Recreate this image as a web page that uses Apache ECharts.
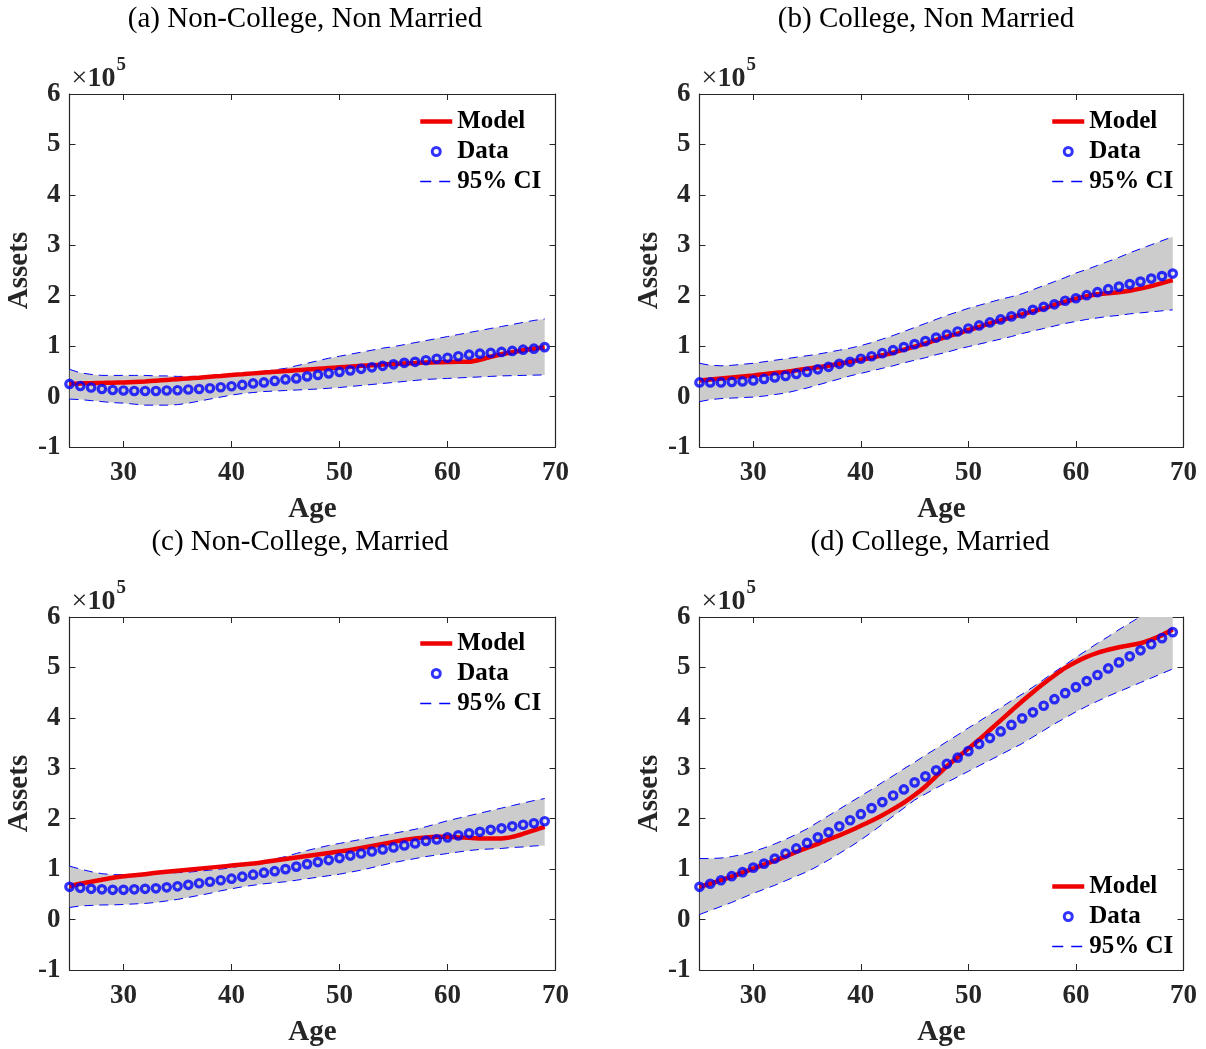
<!DOCTYPE html>
<html>
<head>
<meta charset="utf-8">
<script src="https://cdn.jsdelivr.net/npm/echarts@6/dist/echarts.min.js"></script>
<style>
html,body{margin:0;padding:0;background:#fff;}
#chart{width:1206px;height:1049px;}
</style>
</head>
<body>
<div id="chart"></div>
<script>
// Ages (x values)
const ages = [25,26,27,28,29,30,31,32,33,34,35,36,37,38,39,40,41,42,43,44,45,46,47,48,49,50,51,52,53,54,55,56,57,58,59,60,61,62,63,64,65,66,67,68,69];

// Panel titles
const panelTitles = ['(a) Non-College, Non Married','(b) College, Non Married','(c) Non-College, Married','(d) College, Married'];
const legendNames = ['Model','Data','95% CI'];
const yTickLabels = ['-1','0','1','2','3','4','5','6'];

// Values in units of 1e5
// (a) Non-College, Non Married
const modelA = [0.25,0.26,0.265,0.27,0.275,0.28,0.29,0.30,0.315,0.33,0.345,0.36,0.375,0.395,0.41,0.43,0.445,0.46,0.475,0.49,0.505,0.52,0.535,0.55,0.565,0.58,0.595,0.61,0.62,0.635,0.645,0.655,0.665,0.675,0.68,0.685,0.69,0.69,0.73,0.79,0.84,0.88,0.92,0.95,0.98];
const dataA  = [0.25,0.21,0.18,0.15,0.13,0.12,0.11,0.11,0.11,0.12,0.125,0.14,0.15,0.165,0.185,0.205,0.23,0.26,0.28,0.31,0.34,0.36,0.40,0.43,0.46,0.49,0.52,0.55,0.58,0.61,0.64,0.67,0.69,0.72,0.75,0.77,0.80,0.83,0.85,0.865,0.885,0.905,0.93,0.95,0.98];
const upperA = [0.54,0.47,0.44,0.42,0.42,0.42,0.42,0.42,0.41,0.41,0.40,0.40,0.40,0.41,0.42,0.43,0.45,0.47,0.50,0.53,0.56,0.61,0.66,0.71,0.76,0.80,0.84,0.88,0.92,0.96,0.99,1.03,1.07,1.11,1.15,1.19,1.23,1.27,1.31,1.35,1.39,1.43,1.47,1.51,1.54];
const lowerA = [-0.05,-0.06,-0.08,-0.10,-0.12,-0.13,-0.15,-0.17,-0.17,-0.17,-0.16,-0.13,-0.09,-0.05,-0.01,0.03,0.06,0.08,0.10,0.11,0.12,0.13,0.14,0.15,0.165,0.18,0.20,0.22,0.24,0.26,0.28,0.30,0.32,0.34,0.35,0.36,0.37,0.38,0.39,0.40,0.41,0.415,0.42,0.425,0.43];

// (b) College, Non Married
const modelB = [0.32,0.34,0.36,0.38,0.40,0.42,0.445,0.47,0.49,0.52,0.55,0.58,0.61,0.65,0.69,0.73,0.77,0.82,0.87,0.93,0.99,1.05,1.12,1.19,1.25,1.32,1.38,1.45,1.51,1.57,1.63,1.69,1.75,1.82,1.88,1.94,1.99,2.03,2.05,2.07,2.10,2.14,2.19,2.25,2.31];
const dataB  = [0.28,0.28,0.28,0.29,0.30,0.32,0.35,0.38,0.41,0.45,0.49,0.54,0.59,0.65,0.69,0.75,0.80,0.86,0.92,0.98,1.04,1.10,1.17,1.23,1.29,1.35,1.41,1.47,1.53,1.59,1.65,1.72,1.78,1.83,1.90,1.95,2.01,2.07,2.13,2.18,2.23,2.28,2.34,2.39,2.44];
const upperB = [0.66,0.62,0.61,0.62,0.64,0.66,0.69,0.72,0.75,0.78,0.81,0.84,0.88,0.92,0.96,1.01,1.07,1.14,1.21,1.29,1.37,1.45,1.53,1.61,1.68,1.75,1.81,1.87,1.93,1.98,2.04,2.12,2.20,2.28,2.36,2.45,2.52,2.60,2.68,2.76,2.85,2.93,3.01,3.09,3.17];
const lowerB = [-0.10,-0.06,-0.04,-0.03,-0.02,-0.01,0.01,0.04,0.07,0.12,0.17,0.23,0.29,0.35,0.41,0.46,0.51,0.56,0.61,0.67,0.72,0.77,0.83,0.88,0.94,0.99,1.04,1.09,1.14,1.19,1.25,1.30,1.35,1.40,1.45,1.49,1.53,1.56,1.59,1.61,1.64,1.66,1.68,1.70,1.72];

// (c) Non-College, Married
const modelC = [0.66,0.71,0.75,0.79,0.83,0.86,0.88,0.90,0.93,0.95,0.97,0.99,1.01,1.03,1.05,1.07,1.09,1.11,1.14,1.17,1.20,1.23,1.26,1.29,1.32,1.35,1.38,1.42,1.46,1.50,1.54,1.58,1.61,1.63,1.64,1.64,1.63,1.62,1.61,1.61,1.61,1.64,1.70,1.77,1.84];
const dataC  = [0.65,0.63,0.61,0.60,0.59,0.59,0.60,0.61,0.62,0.64,0.66,0.69,0.72,0.75,0.78,0.81,0.85,0.89,0.93,0.96,1.00,1.05,1.10,1.14,1.18,1.22,1.27,1.31,1.35,1.39,1.43,1.47,1.51,1.56,1.59,1.63,1.67,1.71,1.74,1.78,1.81,1.85,1.88,1.91,1.95];
const upperC = [1.06,1.00,0.95,0.91,0.89,0.89,0.89,0.90,0.91,0.92,0.93,0.94,0.96,0.98,1.00,1.03,1.07,1.11,1.15,1.20,1.25,1.31,1.37,1.42,1.47,1.51,1.55,1.59,1.63,1.67,1.71,1.75,1.79,1.84,1.90,1.96,2.01,2.06,2.11,2.16,2.21,2.26,2.31,2.36,2.40];
const lowerC = [0.24,0.27,0.28,0.29,0.29,0.30,0.31,0.32,0.34,0.37,0.40,0.44,0.48,0.52,0.57,0.61,0.65,0.68,0.71,0.73,0.75,0.78,0.81,0.84,0.87,0.90,0.94,0.98,1.03,1.08,1.13,1.17,1.21,1.25,1.28,1.31,1.34,1.37,1.39,1.40,1.41,1.43,1.44,1.46,1.47];

// (d) College, Married
const modelD = [0.65,0.71,0.78,0.85,0.93,1.01,1.09,1.17,1.25,1.34,1.42,1.50,1.59,1.67,1.76,1.86,1.96,2.07,2.19,2.32,2.47,2.64,2.84,3.04,3.22,3.39,3.57,3.76,3.95,4.14,4.33,4.51,4.68,4.84,4.99,5.11,5.21,5.29,5.35,5.40,5.44,5.48,5.55,5.64,5.75];
const dataD  = [0.65,0.71,0.78,0.86,0.94,1.03,1.11,1.21,1.31,1.41,1.52,1.63,1.73,1.85,1.97,2.09,2.21,2.33,2.46,2.58,2.72,2.84,2.96,3.09,3.21,3.34,3.48,3.60,3.73,3.86,3.99,4.11,4.24,4.37,4.49,4.61,4.73,4.85,4.98,5.10,5.22,5.34,5.46,5.58,5.70];
const upperD = [1.21,1.21,1.22,1.25,1.29,1.35,1.42,1.50,1.59,1.69,1.80,1.93,2.06,2.19,2.32,2.45,2.58,2.72,2.85,2.99,3.12,3.26,3.39,3.53,3.66,3.80,3.93,4.07,4.20,4.34,4.47,4.61,4.76,4.91,5.05,5.20,5.34,5.48,5.61,5.75,5.88,6.01,6.14,6.27,6.40];
const lowerD = [0.10,0.18,0.26,0.34,0.43,0.52,0.60,0.68,0.77,0.86,0.95,1.06,1.18,1.31,1.44,1.58,1.73,1.89,2.05,2.21,2.37,2.49,2.61,2.72,2.83,2.94,3.05,3.16,3.27,3.38,3.49,3.62,3.75,3.88,4.00,4.12,4.23,4.33,4.43,4.52,4.61,4.70,4.79,4.88,4.97];

const panels = [
  {model: modelA, data: dataA, upper: upperA, lower: lowerA},
  {model: modelB, data: dataB, upper: upperB, lower: lowerB},
  {model: modelC, data: dataC, upper: upperC, lower: lowerC},
  {model: modelD, data: dataD, upper: upperD, lower: lowerD}
];

// Layout (pixels)
const grids = [
  {left: 69.5, top: 94, width: 486, height: 353},
  {left: 699.5, top: 94, width: 484, height: 353},
  {left: 69.5, top: 617, width: 486, height: 353},
  {left: 699.5, top: 617, width: 484, height: 353}
];
const titlePos = [[305, 19], [926, 19], [300, 542], [930, 542]];
const legendPos = [[418, 109], [1050, 109], [418, 631], [1050, 874]];

const SERIF = '"Liberation Serif","Times New Roman",serif';
const AX = '#262626';
const RED = '#ee0000';
const BLUE = '#0000ff';

const pairs = arr => arr.map((v, i) => [ages[i], v]);

const xAxes = [], yAxes = [], series = [], legends = [], graphics = [];

panels.forEach((p, i) => {
  const g = grids[i];
  const common = {
    gridIndex: i,
    axisLine: {show: true, onZero: false, lineStyle: {color: AX, width: 1.2}},
    axisTick: {show: true, inside: true, length: 6, lineStyle: {color: AX, width: 1}},
    splitLine: {show: false}
  };
  xAxes.push(Object.assign({}, common, {
    type: 'value', position: 'bottom', min: 25, max: 70, splitNumber: 5,
    axisLabel: {
      show: true, margin: 13, fontFamily: SERIF, fontWeight: 'bold', fontSize: 27, color: AX,
      formatter: v => (v % 10 === 0 ? String(v) : '')
    },
    name: 'Age', nameLocation: 'middle', nameGap: 48,
    nameTextStyle: {fontFamily: SERIF, fontWeight: 'bold', fontSize: 29, color: AX}
  }));
  xAxes.push(Object.assign({}, common, {
    type: 'value', position: 'top', min: 25, max: 70, splitNumber: 5,
    axisLabel: {show: false}
  }));
  yAxes.push(Object.assign({}, common, {
    type: 'value', position: 'left', min: -1, max: 6, interval: 1,
    axisLabel: {
      show: true, margin: 9, fontFamily: SERIF, fontWeight: 'bold', fontSize: 27, color: AX,
      formatter: v => yTickLabels[Math.round(v) + 1]
    },
    name: 'Assets', nameLocation: 'middle', nameGap: 34,
    nameTextStyle: {fontFamily: SERIF, fontWeight: 'bold', fontSize: 29, color: AX}
  }));
  yAxes.push(Object.assign({}, common, {
    type: 'value', position: 'right', min: -1, max: 6, interval: 1,
    axisLabel: {show: false}
  }));

  const xi = 2 * i, yi = 2 * i;

  // grey confidence band drawn as one polygon through the axis scales
  series.push({
    name: 'band' + i, type: 'custom', xAxisIndex: xi, yAxisIndex: yi, silent: true, z: 1,
    data: ages.map((a, k) => [a, p.lower[k], p.upper[k]]),
    renderItem: (params, api) => {
      if (params.dataIndex !== 0) return null;
      const pts = [];
      for (let k = 0; k < ages.length; k++) pts.push(api.coord([ages[k], p.upper[k]]));
      for (let k = ages.length - 1; k >= 0; k--) pts.push(api.coord([ages[k], p.lower[k]]));
      const cs = params.coordSys;
      return {
        type: 'polygon', shape: {points: pts},
        style: {fill: '#cccccc', stroke: null},
        clipPath: {type: 'rect', shape: {x: cs.x, y: cs.y, width: cs.width, height: cs.height}}
      };
    }
  });
  series.push({
    name: '95% CI', type: 'line', xAxisIndex: xi, yAxisIndex: yi,
    data: pairs(p.lower), symbol: 'none', silent: true,
    lineStyle: {color: BLUE, width: 1, type: [9, 6]},
    itemStyle: {color: BLUE}, z: 3
  });
  series.push({
    name: '95% CI', type: 'line', xAxisIndex: xi, yAxisIndex: yi,
    data: pairs(p.upper), symbol: 'none', silent: true,
    lineStyle: {color: BLUE, width: 1, type: [9, 6]},
    itemStyle: {color: BLUE}, z: 3
  });
  series.push({
    name: 'Model', type: 'line', xAxisIndex: xi, yAxisIndex: yi,
    data: pairs(p.model), symbol: 'none', silent: true, smooth: 0.2,
    lineStyle: {color: RED, width: 4.5},
    itemStyle: {color: RED}, z: 4
  });
  series.push({
    name: 'Data', type: 'scatter', xAxisIndex: xi, yAxisIndex: yi,
    data: pairs(p.data), symbol: 'circle', symbolSize: 7.5, silent: true,
    itemStyle: {color: 'rgba(0,0,0,0)', borderColor: BLUE, borderWidth: 3.2},
    z: 5
  });

  legends.push({
    data: [
      {name: legendNames[0], itemStyle: {opacity: 0}, lineStyle: {color: RED, width: 4.5, type: 'solid'}},
      {name: legendNames[1], itemStyle: {color: 'rgba(0,0,0,0)', borderColor: BLUE, borderWidth: 3}},
      {name: legendNames[2], itemStyle: {opacity: 0}, lineStyle: {color: BLUE, width: 1.5, type: [11, 8], opacity: 1}}
    ],
    orient: 'vertical', left: legendPos[i][0], top: legendPos[i][1], padding: 0,
    itemWidth: 32, itemHeight: 8, itemGap: 5, selectedMode: false,
    textStyle: {fontFamily: SERIF, fontWeight: 'bold', fontSize: 25, color: '#000'}
  });

  graphics.push({
    type: 'text', x: titlePos[i][0], y: titlePos[i][1],
    style: {text: panelTitles[i], font: '29px ' + SERIF, fill: '#000', textAlign: 'center', textVerticalAlign: 'middle'}
  });
  graphics.push({
    type: 'text', x: g.left + 2, y: g.top - 15,
    style: {text: '\u00d7', font: '28px ' + SERIF, fill: AX, textAlign: 'left', textVerticalAlign: 'middle'}
  });
  graphics.push({
    type: 'text', x: g.left + 18, y: g.top - 15,
    style: {text: '10', font: 'bold 28px ' + SERIF, fill: AX, textAlign: 'left', textVerticalAlign: 'middle'}
  });
  graphics.push({
    type: 'text', x: g.left + 47, y: g.top - 29,
    style: {text: '5', font: 'bold 19px ' + SERIF, fill: AX, textAlign: 'left', textVerticalAlign: 'middle'}
  });
});

const chart = echarts.init(document.getElementById('chart'), null, {renderer: 'canvas'});
chart.setOption({
  backgroundColor: '#ffffff',
  animation: false,
  grid: grids.map(g => Object.assign({containLabel: false}, g)),
  xAxis: xAxes,
  yAxis: yAxes,
  legend: legends,
  series: series,
  graphic: graphics
});
</script>
</body>
</html>
